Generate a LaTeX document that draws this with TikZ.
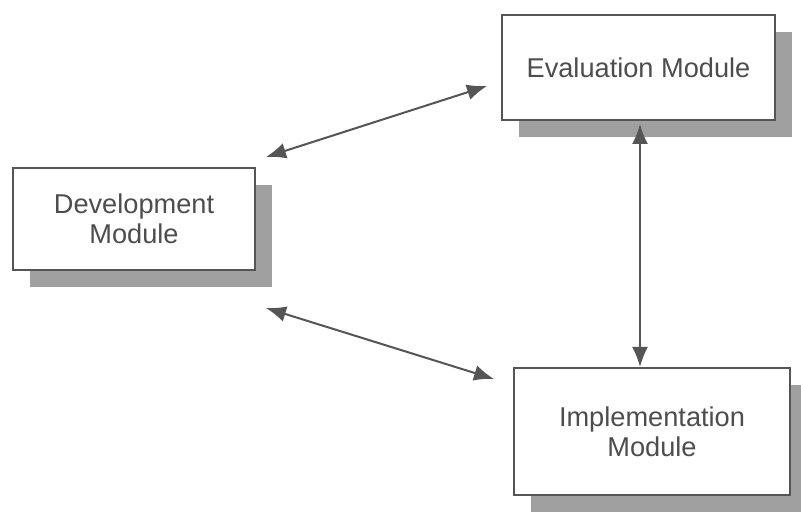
\documentclass[tikz,border=0pt]{standalone}
\usepackage{fontspec}
\setmainfont{Liberation Sans}
\usetikzlibrary{shadows,arrows.meta}
\definecolor{boxline}{HTML}{555555}
\definecolor{modtext}{HTML}{4D4D4D}
\definecolor{shade}{HTML}{A0A0A0}
\tikzstyle{module}=[draw=boxline, line width=1pt, fill=white, text=modtext,
  align=center, font=\fontsize{13.6}{15}\selectfont,
  drop shadow={shadow xshift=8.5pt, shadow yshift=-8.5pt, fill=shade, opacity=1}]
\tikzstyle{link} = [draw, line width=1pt, color=boxline,
  {Latex[length=10pt,width=8pt]}-{Latex[length=10pt,width=8pt]}]
\newcommand{\modulebox}[4]{node (#1) [module, minimum width=#3,
  minimum height=#4] {#2}}

\begin{document}
\begin{tikzpicture}[x=0.5pt,y=0.5pt]
  \useasboundingbox (0,0) rectangle (801,513);

  % module blocks
  \path (134,294) \modulebox{DEVELOPMENT}{Development\\ Module}{121pt}{51pt};
  \path (DEVELOPMENT.center)+(504.5,151.5) \modulebox{EVALUATION}{Evaluation Module}{136.5pt}{52.5pt};
  \path (EVALUATION.center)+(13.5,-364) \modulebox{IMPLEMENTATION}{Implementation\\ Module}{138pt}{63.5pt};

  % Draw arrows between modules
  \path [link] ([shift={(10,10)}]DEVELOPMENT.north east) -- ([shift={(-14,35)}]EVALUATION.south west);
  \path [link] ([shift={(10,-37)}]DEVELOPMENT.south east) -- ([shift={(-19,-12)}]IMPLEMENTATION.north west);
  \path [link] ([shift={(1.5,-3)}]EVALUATION.south) -- ([shift={(-12,0)}]IMPLEMENTATION.north);
\end{tikzpicture}
\end{document}
